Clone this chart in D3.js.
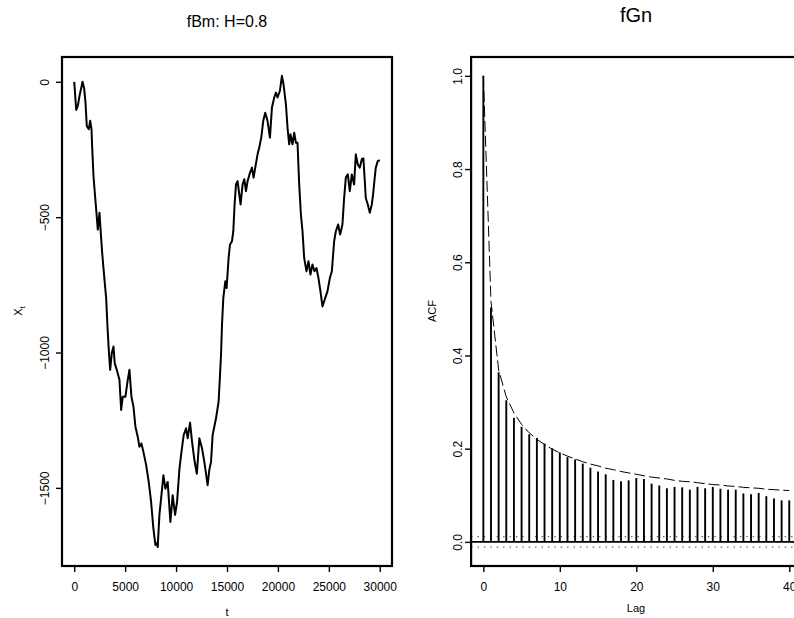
<!DOCTYPE html>
<html>
<head>
<meta charset="utf-8">
<script src="https://cdn.jsdelivr.net/npm/d3@7"></script>
<style>
  html, body { margin: 0; padding: 0; background: #fff; }
  svg { display: block; }
  text { font-family: "Liberation Sans", Arial, Helvetica, sans-serif; fill: #000; }
</style>
</head>
<body>
<svg id="fig" width="794" height="618"></svg>
<script>
// ---- fBm sample path (H = 0.8), t = 0 .. 30000 ----
const pathT = [0,196,353,520,667,814,980,1108,1235,1431,1569,1696,1765,1892,2020,2157,2314,2480,2608,2745,
  2873,3000,3137,3265,3392,3529,3686,3853,3980,4176,4441,4608,4765,5029,5255,5422,5618,5814,6010,6235,
  6402,6598,6794,7059,7314,7549,7775,7971,8118,8196,8363,8627,8755,8951,9176,9441,9667,9902,10098,10324,
  10490,10745,10980,11137,11373,11569,11794,12039,12284,12549,12775,13098,13265,13431,13588,13922,14176,14314,14412,14510,
  14637,14833,14961,15157,15294,15490,15618,15745,15882,16039,16206,16333,16529,16696,16863,17020,17255,17451,17608,17775,
  18000,18167,18363,18559,18755,18980,19216,19412,19637,19804,19961,20196,20392,20549,20784,20941,21108,21235,21431,21598,
  21765,21922,22088,22255,22412,22578,22804,23000,23196,23392,23588,23784,23980,24176,24373,24637,24863,25098,25294,25520,
  25686,25912,26108,26333,26500,26667,26863,27059,27255,27480,27647,27843,28039,28235,28392,28529,28627,28824,29020,29216,
  29343,29471,29608,29804,30000];
const pathX = [0,-104,-89,-52,-26,0,-26,-78,-163,-175,-144,-175,-244,-348,-410,-471,-546,-484,-558,-632,
  -688,-743,-800,-904,-990,-1064,-1003,-978,-1040,-1064,-1101,-1212,-1163,-1163,-1101,-1064,-1163,-1200,-1274,-1311,
  -1348,-1336,-1367,-1415,-1478,-1552,-1651,-1711,-1704,-1719,-1600,-1503,-1453,-1503,-1478,-1626,-1527,-1600,-1552,-1433,
  -1379,-1305,-1280,-1317,-1259,-1330,-1396,-1448,-1317,-1354,-1404,-1490,-1433,-1404,-1305,-1243,-1181,-1083,-1008,-897,
  -799,-737,-762,-651,-601,-589,-552,-453,-379,-367,-416,-453,-379,-360,-404,-367,-336,-317,-354,-317,
  -268,-243,-206,-144,-114,-144,-206,-95,-58,-40,-58,-33,22,-9,-83,-169,-231,-194,-231,-188,
  -225,-225,-379,-490,-552,-651,-700,-663,-712,-675,-700,-688,-725,-774,-830,-799,-774,-725,-700,-589,
  -552,-527,-564,-527,-429,-354,-342,-404,-342,-379,-268,-305,-317,-286,-283,-367,-429,-453,-484,-453,
  -416,-367,-317,-293,-289];
const pathXTicks = [0, 5000, 10000, 15000, 20000, 25000, 30000];
const pathYTicks = [0, -500, -1000, -1500];

// ---- sample ACF of the increments (fGn), lags 0 .. 40 ----
const lags = d3.range(0, 41);
const acfSample = [1,0.503,0.364,0.304,0.266,0.247,0.231,0.223,0.211,0.201,
  0.192,0.182,0.177,0.168,0.159,0.151,0.145,0.133,0.130,0.132,
  0.137,0.135,0.125,0.121,0.115,0.118,0.117,0.112,0.118,0.115,
  0.118,0.114,0.112,0.112,0.104,0.102,0.105,0.098,0.093,0.089,0.089];
// theoretical fGn autocorrelation for H = 0.8 (dashed)
const acfTheory = [1,0.516,0.369,0.311,0.277,0.252,0.234,0.220,0.209,0.199,
  0.191,0.184,0.178,0.172,0.167,0.163,0.158,0.155,0.151,0.148,
  0.145,0.142,0.139,0.137,0.135,0.132,0.130,0.129,0.127,0.125,
  0.123,0.122,0.120,0.119,0.117,0.116,0.115,0.113,0.112,0.111,0.110];
const ciBound = 0.0113;
const acfXTicks = [0, 10, 20, 30, 40];
const acfYTicks = [0, 0.2, 0.4, 0.6, 0.8, 1.0];

const svg = d3.select("#fig");
svg.append("rect").attr("width", 794).attr("height", 618).attr("fill", "#fff");

// R-style axis extent: data range padded by 4% on each side
function padded(lo, hi) { const r = hi - lo; return [lo - 0.04 * r, hi + 0.04 * r]; }

const TICK = 6;

function drawFrame(g, x, y, xTicks, yTicks, xFmt, yFmt, yLabelX) {
  const [x0, x1] = x.range();
  const [y0, y1] = y.range();
  g.append("rect")
    .attr("x", x0).attr("y", y1).attr("width", x1 - x0).attr("height", y0 - y1)
    .attr("fill", "none").attr("stroke", "#000").attr("stroke-width", 2.2);

  const xa = g.append("g").attr("transform", `translate(0,${y0})`)
    .call(d3.axisBottom(x).tickValues(xTicks).tickSize(TICK).tickPadding(0).tickFormat(xFmt));
  xa.select(".domain").remove();
  xa.selectAll("line").attr("stroke", "#000").attr("stroke-width", 1.4);
  xa.selectAll("text").attr("y", 21).attr("dy", "0.35em").attr("font-size", 12);

  const ya = g.append("g").attr("transform", `translate(${x0},0)`)
    .call(d3.axisLeft(y).tickValues(yTicks).tickSize(TICK).tickPadding(0).tickFormat(yFmt));
  ya.select(".domain").remove();
  ya.selectAll("line").attr("stroke", "#000").attr("stroke-width", 1.4);
  ya.selectAll("text")
    .attr("x", null).attr("dy", null)
    .attr("text-anchor", "middle")
    .attr("dominant-baseline", "central")
    .attr("font-size", 12)
    .attr("transform", function() { return `translate(${yLabelX - x0},0) rotate(-90)`; });
}

// ---------- left panel: fBm path ----------
{
  const g = svg.append("g");
  const x = d3.scaleLinear().domain(padded(d3.min(pathT), d3.max(pathT))).range([62, 392]);
  const y = d3.scaleLinear().domain(padded(d3.min(pathX), d3.max(pathX))).range([566, 57]);

  g.append("path")
    .datum(pathT.map((t, i) => [t, pathX[i]]))
    .attr("fill", "none").attr("stroke", "#000").attr("stroke-width", 2)
    .attr("stroke-linejoin", "round")
    .attr("d", d3.line().x(d => x(d[0])).y(d => y(d[1])));

  drawFrame(g, x, y, pathXTicks, pathYTicks, d3.format("d"), d3.format("d"), 45);

  g.append("text").attr("x", 227).attr("y", 27).attr("text-anchor", "middle")
    .attr("font-size", 16).text("fBm: H=0.8");
  g.append("text").attr("x", 227).attr("y", 616).attr("text-anchor", "middle")
    .attr("font-size", 11).text("t");
  const yl = g.append("text").attr("transform", "translate(22,311) rotate(-90)")
    .attr("text-anchor", "middle").attr("font-size", 11);
  yl.append("tspan").text("X");
  yl.append("tspan").attr("font-size", 8).attr("dy", 3).text("t");
}

// ---------- right panel: ACF of fGn ----------
{
  const g = svg.append("g");
  const x = d3.scaleLinear().domain(padded(d3.min(lags), d3.max(lags))).range([471.1, 801.5]);
  const y = d3.scaleLinear().domain(padded(-ciBound, d3.max(acfSample))).range([566, 57]);
  const [xl, xr] = x.range();

  // confidence bounds
  g.selectAll("line.ci").data([ciBound, -ciBound]).join("line")
    .attr("class", "ci")
    .attr("x1", xl).attr("x2", xr)
    .attr("y1", d => y(d)).attr("y2", d => y(d))
    .attr("stroke", "#3a6db3").attr("stroke-width", 1.1).attr("stroke-dasharray", "1.4,5");

  // zero line
  g.append("line").attr("x1", xl).attr("x2", xr).attr("y1", y(0)).attr("y2", y(0))
    .attr("stroke", "#000").attr("stroke-width", 1.6);

  // ACF spikes
  g.selectAll("line.spike").data(lags).join("line")
    .attr("class", "spike")
    .attr("x1", d => x(d)).attr("x2", d => x(d))
    .attr("y1", y(0)).attr("y2", d => y(acfSample[d]))
    .attr("stroke", "#000").attr("stroke-width", 1.9);

  // theoretical ACF
  g.append("path")
    .datum(lags)
    .attr("fill", "none").attr("stroke", "#000").attr("stroke-width", 1)
    .attr("stroke-dasharray", "11,4")
    .attr("d", d3.line().x(d => x(d)).y(d => y(acfTheory[d])));

  drawFrame(g, x, y, acfXTicks, acfYTicks, d3.format("d"), d3.format(".1f"), 458);

  g.append("text").attr("x", 636).attr("y", 22).attr("text-anchor", "middle")
    .attr("font-size", 20).text("fGn");
  g.append("text").attr("x", 636).attr("y", 612).attr("text-anchor", "middle")
    .attr("font-size", 11).text("Lag");
  g.append("text").attr("transform", "translate(436,311) rotate(-90)")
    .attr("text-anchor", "middle").attr("font-size", 11).text("ACF");
}
</script>
</body>
</html>
